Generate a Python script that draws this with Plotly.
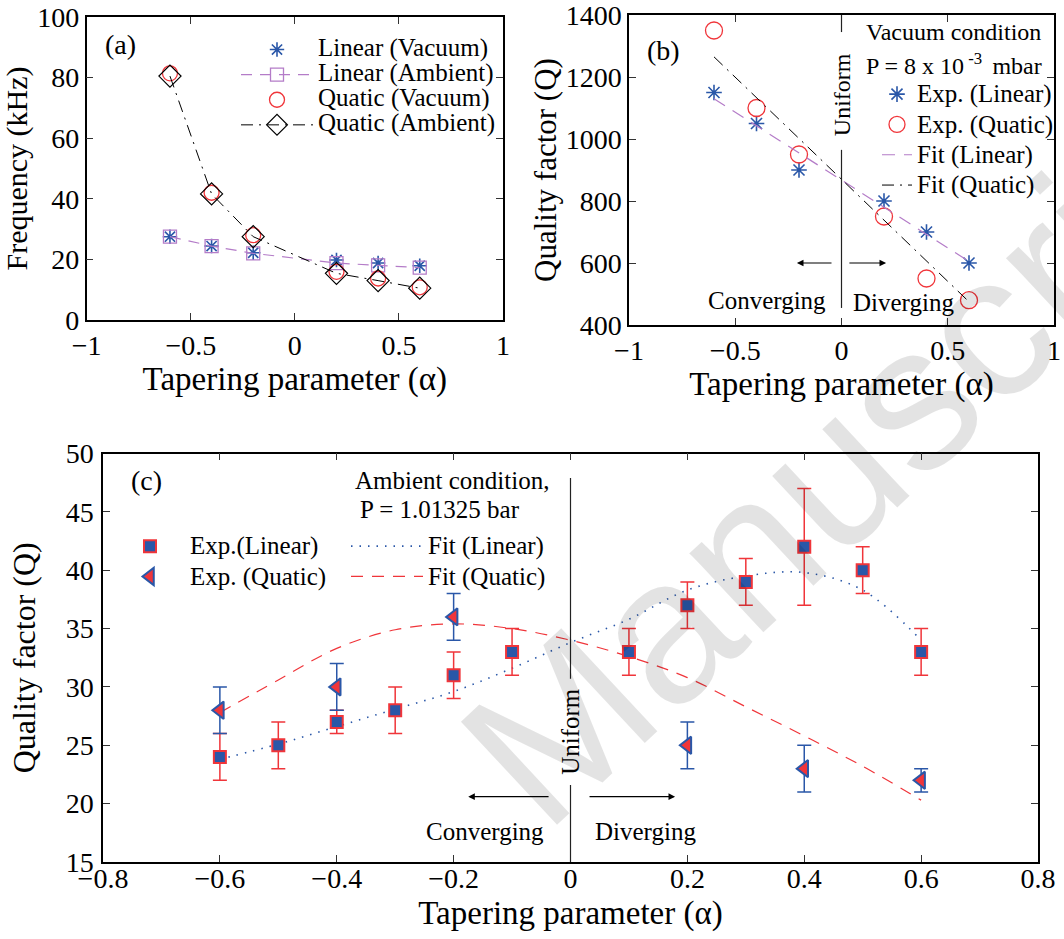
import plotly.graph_objects as go

W, H = 1064, 939
SERIF = "Liberation Serif"
BLUE = "#2a57a8"
RED = "#f0353a"
PURPLE = "#b47cc8"

# ---------------- data ----------------
alpha_ab = [-0.6, -0.4, -0.2, 0.2, 0.4, 0.6]
# panel (a) frequency (kHz)
lin_vac = [27.5, 24.4, 22.2, 19.8, 18.8, 17.9]
lin_amb = [27.5, 24.4, 22.0, 18.8, 18.0, 17.3]
quat_vac = [81.4, 42.0, 28.0, 15.9, 13.7, 10.8]
quat_amb = [80.5, 41.6, 27.5, 15.4, 13.0, 10.5]
# panel (b) quality factor, vacuum
qb_lin = [1150, 1050, 900, 800, 700, 600]
qb_quat = [1350, 1100, 950, 750, 550, 480]
fitb_x = [-0.6, 0.6]
fitb_lin = [1130, 605]
fitb_quat = [1265, 475]
# panel (c) quality factor, ambient
alpha_c_lin = [-0.6, -0.5, -0.4, -0.3, -0.2, -0.1, 0.1, 0.2, 0.3, 0.4, 0.5, 0.6]
qc_lin = [24, 25, 27, 28, 31, 33, 33, 37, 39, 42, 40, 33]
qc_lin_err = [2, 2, 1, 2, 2, 2, 2, 2, 2, 5, 2, 2]
alpha_c_quat = [-0.6, -0.4, -0.2, 0.2, 0.4, 0.6]
qc_quat = [28, 30, 36, 25, 23, 22]
qc_quat_err = [2, 2, 2, 2, 2, 1]
fitc_x = [-0.6, -0.5, -0.4, -0.3, -0.2, -0.1, 0.0, 0.1, 0.2, 0.3, 0.4, 0.5, 0.6]
fitc_lin = [23.8, 25.1, 26.6, 28.1, 29.6, 31.6, 33.8, 35.8, 38.3, 39.5, 39.8, 38.3, 34.0]
fitc_quat = [27.8, 30.6, 33.3, 34.9, 35.4, 35.0, 34.0, 32.6, 30.8, 28.3, 25.8, 23.2, 20.3]


def lg(name, size):
    return '<span style="font-size:%dpx">%s</span>' % (size, name)


fig = go.Figure()

# ---------------- panel (a) ----------------
fig.add_trace(go.Scatter(x=alpha_ab, y=lin_vac, mode="markers", name=lg("Linear (Vacuum)", 25),
                         marker=dict(symbol="asterisk-open", size=12, color=BLUE, line=dict(color=BLUE, width=1.6)),
                         xaxis="x", yaxis="y", legend="legend"))
fig.add_trace(go.Scatter(x=alpha_ab, y=lin_amb, mode="lines+markers", name=lg("Linear (Ambient)", 25),
                         line=dict(color=PURPLE, width=1.2, dash="11px,8px"),
                         marker=dict(symbol="square-open", size=13, color=PURPLE, line=dict(width=1.3)),
                         xaxis="x", yaxis="y", legend="legend"))
fig.add_trace(go.Scatter(x=alpha_ab, y=quat_vac, mode="markers", name=lg("Quatic (Vacuum)", 25),
                         marker=dict(symbol="circle-open", size=15, color=RED, line=dict(width=1.3)),
                         xaxis="x", yaxis="y", legend="legend"))
fig.add_trace(go.Scatter(x=alpha_ab, y=quat_amb, mode="lines+markers", name=lg("Quatic (Ambient)", 25),
                         line=dict(color="black", width=1.0, dash="12px,6px,2px,6px"),
                         marker=dict(symbol="diamond-open", size=17, color="black", line=dict(width=1.2)),
                         xaxis="x", yaxis="y", legend="legend"))

# ---------------- panel (b) ----------------
fig.add_trace(go.Scatter(x=alpha_ab, y=qb_lin, mode="markers", name=lg("Exp. (Linear)", 25),
                         marker=dict(symbol="asterisk-open", size=13, color=BLUE, line=dict(color=BLUE, width=1.6)),
                         xaxis="x2", yaxis="y2", legend="legend2"))
fig.add_trace(go.Scatter(x=alpha_ab, y=qb_quat, mode="markers", name=lg("Exp. (Quatic)", 25),
                         marker=dict(symbol="circle-open", size=17, color=RED, line=dict(width=1.3)),
                         xaxis="x2", yaxis="y2", legend="legend2"))
fig.add_trace(go.Scatter(x=fitb_x, y=fitb_lin, mode="lines", name=lg("Fit (Linear)", 25),
                         line=dict(color=PURPLE, width=1.2, dash="13px,9px"),
                         xaxis="x2", yaxis="y2", legend="legend2"))
fig.add_trace(go.Scatter(x=fitb_x, y=fitb_quat, mode="lines", name=lg("Fit (Quatic)", 25),
                         line=dict(color="black", width=1.0, dash="12px,6px,2px,6px"),
                         xaxis="x2", yaxis="y2", legend="legend2"))

# ---------------- panel (c) ----------------
fig.add_trace(go.Scatter(x=fitc_x, y=fitc_lin, mode="lines", name=lg("Fit (Linear)", 25), line_shape="spline",
                         line=dict(color=BLUE, width=1.6, dash="1.5px,7px"),
                         xaxis="x3", yaxis="y3", legend="legend4"))
fig.add_trace(go.Scatter(x=fitc_x, y=fitc_quat, mode="lines", name=lg("Fit (Quatic)", 25), line_shape="spline",
                         line=dict(color=RED, width=1.2, dash="12px,9px"),
                         xaxis="x3", yaxis="y3", legend="legend4"))
fig.add_trace(go.Scatter(x=alpha_c_lin, y=qc_lin, mode="markers", name=lg("Exp.(Linear)", 25),
                         error_y=dict(type="data", array=qc_lin_err, color=RED, thickness=1.5, width=7),
                         marker=dict(symbol="square", size=12, color=BLUE, line=dict(color=RED, width=2)),
                         xaxis="x3", yaxis="y3", legend="legend3"))
fig.add_trace(go.Scatter(x=alpha_c_quat, y=qc_quat, mode="markers", name=lg("Exp. (Quatic)", 25),
                         error_y=dict(type="data", array=qc_quat_err, color=BLUE, thickness=1.5, width=7),
                         marker=dict(symbol="triangle-left", size=15, color=RED, line=dict(color=BLUE, width=2)),
                         xaxis="x3", yaxis="y3", legend="legend3"))


def px_x(p):
    return p / W


def px_y(p):
    return 1 - p / H


def axis(domain, rng, dtick, title, anchor, tickfs=28, titlefs=30, standoff=0, lblstand=0):
    return dict(domain=domain, range=rng, dtick=dtick, anchor=anchor, automargin=False,
                showline=True, linecolor="black", linewidth=1.5, mirror="ticks",
                ticks="inside", ticklen=7, tickwidth=1, tickcolor="#333",
                showgrid=False, zeroline=False, ticklabelstandoff=lblstand,
                ticklabeloverflow="allow",
                tickfont=dict(family=SERIF, size=tickfs, color="black"),
                title=dict(text=title, font=dict(family=SERIF, size=titlefs, color="black"), standoff=standoff))


def legend(x, y, fs, iw):
    return dict(x=px_x(x), y=px_y(y), xanchor="left", yanchor="top", bgcolor="rgba(0,0,0,0)",
                borderwidth=0, font=dict(family=SERIF, size=fs, color="black"),
                itemwidth=iw, tracegroupgap=0)


layout = dict(
    template="none",
    width=W, height=H, margin=dict(l=0, r=0, t=0, b=0, autoexpand=False),
    paper_bgcolor="white", plot_bgcolor="white",
    font=dict(family=SERIF, color="black"),
    showlegend=True,
    xaxis=axis([px_x(86.7), px_x(503)], [-1, 1], 0.5, "Tapering parameter (α)", "y", titlefs=33, standoff=0, lblstand=0),
    yaxis=axis([px_y(320), px_y(17)], [0, 100], 20, "Frequency (kHz)", "x", titlefs=30, standoff=3, lblstand=0),
    xaxis2=axis([px_x(629), px_x(1054)], [-1, 1], 0.5, "Tapering parameter (α)", "y2", titlefs=33, standoff=4, lblstand=0),
    yaxis2=axis([px_y(325), px_y(15)], [400, 1400], 200, "Quality factor (Q)", "x2", titlefs=31, standoff=0, lblstand=0),
    xaxis3=axis([px_x(103), px_x(1038)], [-0.8, 0.8], 0.2, "Tapering parameter (α)", "y3", titlefs=33, standoff=8, lblstand=-9),
    yaxis3=axis([px_y(862), px_y(453.5)], [15, 50], 5, "Quality factor (Q)", "x3", titlefs=32, standoff=20, lblstand=2),
    legend=legend(236, 32, 17, 72),
    legend2=legend(877, 74, 21, 30),
    legend3=legend(110, 526, 21, 70),
    legend4=legend(346, 526, 21, 72),
)
fig.update_layout(**layout)

ann = []


def txt(text, x, y, xref, yref, size=25, angle=0, xanchor="center"):
    ann.append(dict(text=text, x=x, y=y, xref=xref, yref=yref, showarrow=False, textangle=angle,
                    xanchor=xanchor, yanchor="middle", font=dict(family=SERIF, size=size, color="black")))


# panel labels
txt("(a)", -0.84, 91, "x", "y", size=28)
txt("(b)", -0.84, 1287, "x2", "y2", size=28)
txt("(c)", -0.725, 47.7, "x3", "y3", size=28)
# panel (b) notes
txt("Vacuum condition", 864 / W, px_y(32), "paper", "paper", size=24, xanchor="left")
txt("P = 8 x 10<sup> -3 </sup> mbar", 864 / W, px_y(64), "paper", "paper", size=24, xanchor="left")
txt("Uniform", 0, 1143, "x2", "y2", size=24, angle=-90)
txt("Converging", -0.35, 480, "x2", "y2", size=25)
txt("Diverging", 0.29, 474, "x2", "y2", size=25)
# panel (c) notes
txt("Ambient condition,", -0.203, 47.7, "x3", "y3", size=25)
txt("P = 1.01325 bar", -0.223, 45.2, "x3", "y3", size=25)
txt("Uniform", 0, 26.2, "x3", "y3", size=25, angle=-90)
txt("Converging", -0.147, 17.6, "x3", "y3", size=25)
txt("Diverging", 0.129, 17.6, "x3", "y3", size=25)

# arrows
for xr, yr, x0, x1, yv in [("x2", "y2", -0.04, -0.21, 600), ("x2", "y2", 0.03, 0.21, 600),
                           ("x3", "y3", -0.035, -0.175, 20.6), ("x3", "y3", 0.03, 0.179, 20.6)]:
    ann.append(dict(x=x1, y=yv, ax=x0, ay=yv, xref=xr, yref=yr, axref=xr, ayref=yr, text="",
                    showarrow=True, arrowhead=2, arrowsize=1.2, arrowwidth=1.1, arrowcolor="black"))

# watermark (only the visible word)
ann.append(dict(text="Manuscript", x=862 / W, y=px_y(442), xref="paper", yref="paper",
                showarrow=False, textangle=-43, xanchor="center", yanchor="middle",
                font=dict(family="Liberation Sans", size=205, color="rgba(0,0,0,0.11)")))

fig.update_layout(annotations=ann)

shapes = []
for xr, yr, y0, y1 in [("x2", "y2", 1400, 1345), ("x2", "y2", 965, 455),
                       ("x3", "y3", 47.9, 30.7), ("x3", "y3", 21.6, 15)]:
    shapes.append(dict(type="line", xref=xr, yref=yr, x0=0, x1=0, y0=y0, y1=y1,
                       line=dict(color="#222", width=1.2)))
fig.update_layout(shapes=shapes)

fig.write_html("out.html", config={"displayModeBar": False},
               post_script="document.body.style.margin='0px';")
